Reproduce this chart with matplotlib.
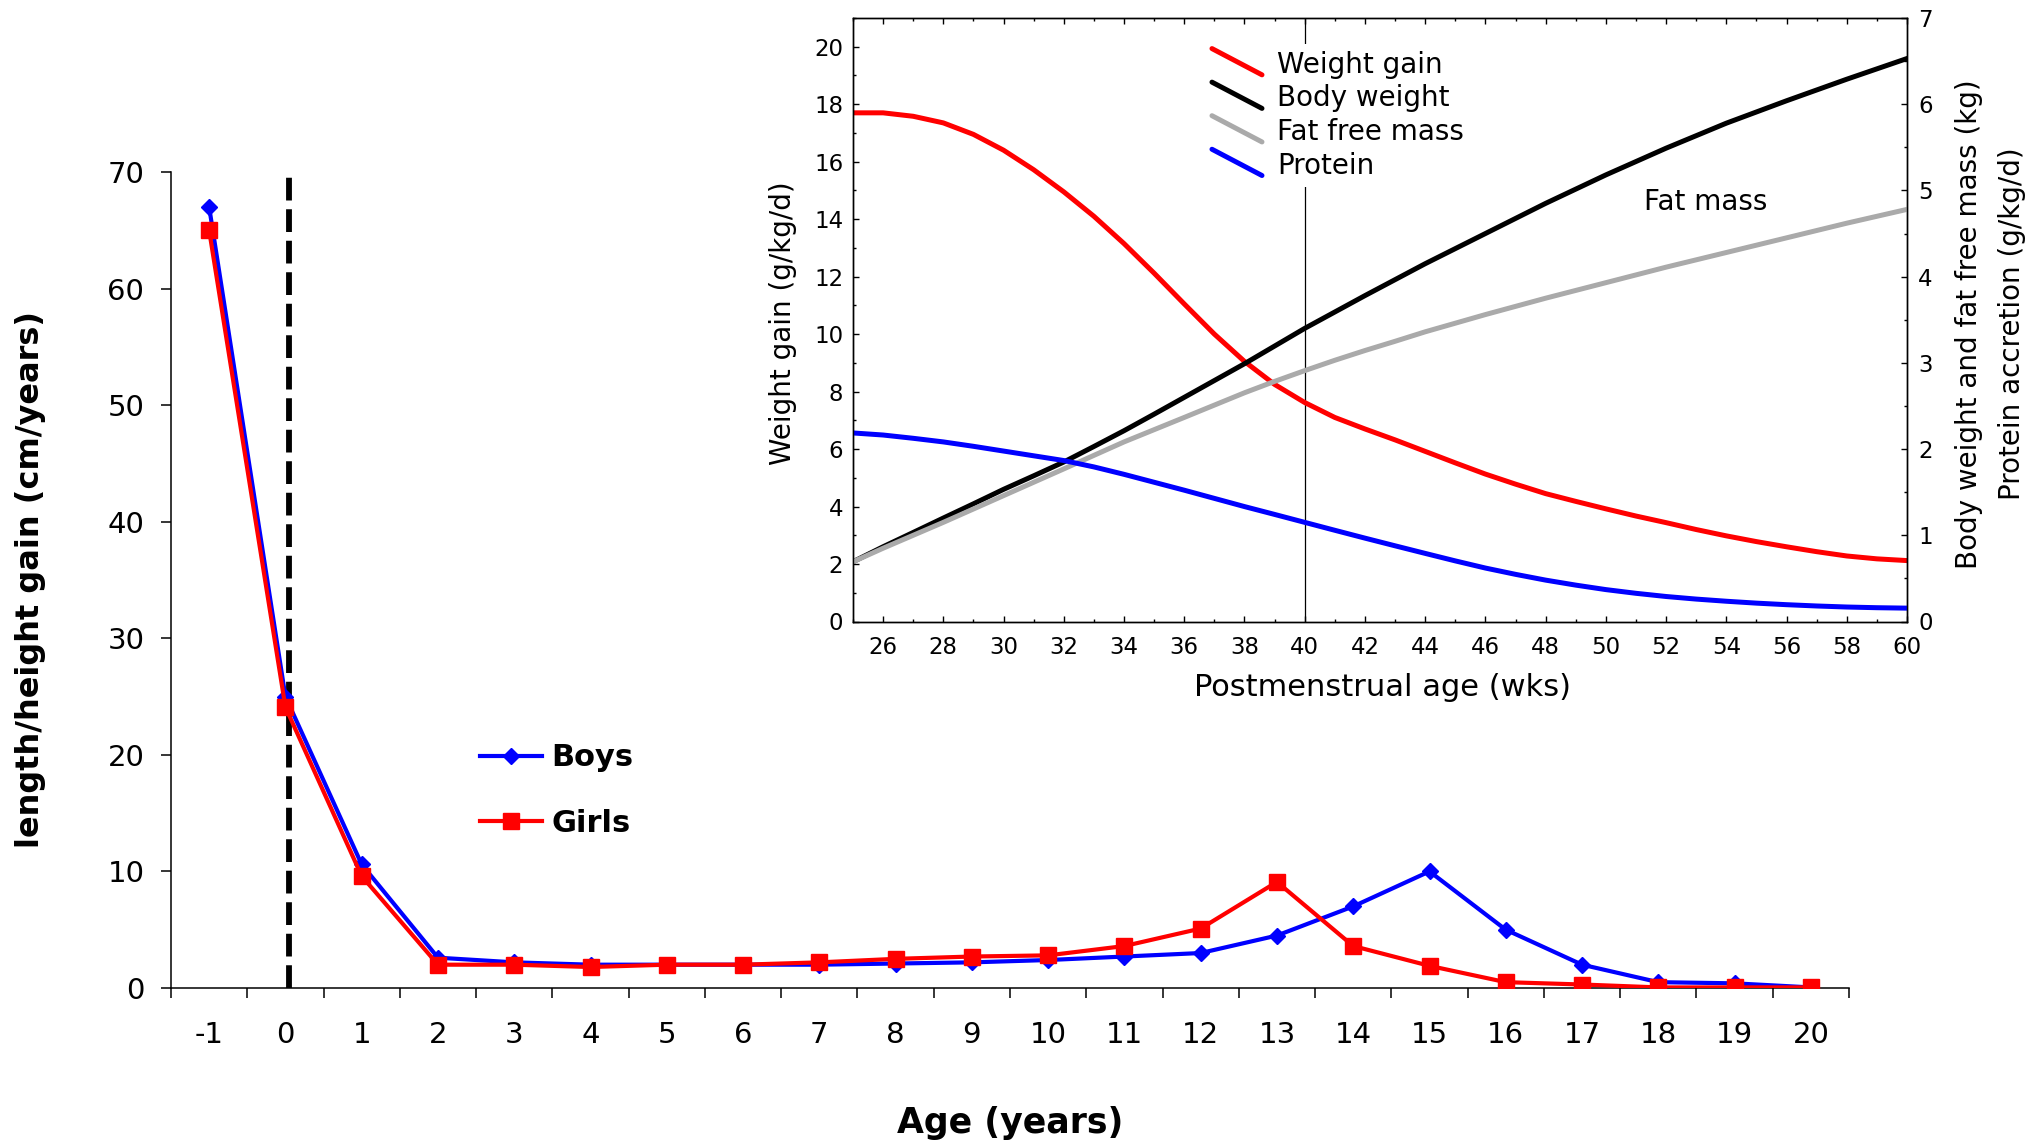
import numpy as np
import matplotlib
matplotlib.use('Agg')
import matplotlib.pyplot as plt
from matplotlib.lines import Line2D
from matplotlib.legend_handler import HandlerBase
from matplotlib.ticker import MultipleLocator, FixedLocator, NullFormatter

plt.rcParams['font.family'] = ['DejaVu Sans']

# main chart: growth velocity by age
ages = [-1, 0, 1, 2, 3, 4, 5, 6, 7, 8, 9, 10, 11, 12, 13, 14, 15, 16, 17, 18, 19, 20]
boys = [67.0, 25.0, 10.6, 2.6, 2.2, 2.0, 2.0, 2.0, 2.0, 2.1, 2.2, 2.4, 2.7, 3.0,
        4.5, 7.0, 10.0, 5.0, 2.0, 0.5, 0.4, 0.05]
girls = [65.0, 24.1, 9.6, 2.0, 2.0, 1.8, 2.0, 2.0, 2.2, 2.5, 2.7, 2.8, 3.6, 5.1,
         9.1, 3.6, 1.9, 0.5, 0.3, 0.05, 0.05, 0.05]

# inset: postmenstrual age (weeks)
pma = list(range(25, 61))
weight_gain = [17.70, 17.70, 17.58, 17.35, 16.95, 16.40, 15.72, 14.95, 14.10, 13.15,
               12.12, 11.05, 10.00, 9.05, 8.25, 7.62, 7.10, 6.70, 6.32, 5.92,
               5.52, 5.13, 4.78, 4.45, 4.18, 3.92, 3.67, 3.44, 3.20, 2.98,
               2.78, 2.60, 2.43, 2.28, 2.18, 2.12]
body_weight = [0.693, 0.867, 1.033, 1.200, 1.365, 1.533, 1.690, 1.850, 2.030, 2.213,
               2.405, 2.600, 2.795, 2.990, 3.195, 3.400, 3.590, 3.780, 3.965, 4.150,
               4.325, 4.500, 4.675, 4.850, 5.015, 5.180, 5.335, 5.490, 5.635, 5.780,
               5.910, 6.040, 6.165, 6.290, 6.410, 6.530]
fat_free_mass = [0.693, 0.850, 1.000, 1.150, 1.305, 1.460, 1.615, 1.770, 1.927, 2.083,
                 2.225, 2.367, 2.510, 2.653, 2.785, 2.910, 3.030, 3.143, 3.250, 3.360,
                 3.460, 3.560, 3.655, 3.750, 3.840, 3.930, 4.020, 4.110, 4.195, 4.280,
                 4.365, 4.450, 4.535, 4.620, 4.700, 4.780]
protein = [2.187, 2.163, 2.125, 2.083, 2.032, 1.977, 1.922, 1.867, 1.793, 1.707,
           1.615, 1.523, 1.428, 1.333, 1.242, 1.150, 1.058, 0.967, 0.878, 0.790,
           0.703, 0.620, 0.547, 0.480, 0.422, 0.370, 0.327, 0.290, 0.260, 0.235,
           0.213, 0.195, 0.180, 0.168, 0.160, 0.155]


class DiagonalHandler(HandlerBase):
    # legend key drawn as a short falling diagonal stroke
    def create_artists(self, legend, orig_handle, xdescent, ydescent,
                       width, height, fontsize, trans):
        x0, y0 = -xdescent, -ydescent
        ln = Line2D([x0, x0 + width], [y0 + height * 1.25, y0 - height * 0.1],
                    color=orig_handle.get_color(), lw=orig_handle.get_linewidth(),
                    solid_capstyle='round', transform=trans)
        return [ln]


W, H = 2041, 1143
fig = plt.figure(figsize=(W / 100, H / 100), dpi=100)

# ---- main axes ----
ax = fig.add_axes([171 / W, 1 - 988 / H, 1678 / W, 816 / H])
ax.plot(ages, boys, color='#0000ff', lw=3, marker='D', ms=8, mec='#0000ff',
        label='Boys', zorder=3)
ax.plot(ages, girls, color='#ff0000', lw=3, marker='s', ms=11, mec='#ff0000',
        label='Girls', zorder=4)
ax.axvline(0.05, ymin=0, ymax=1, color='black', lw=4.2, ls=(0, (3.9, 1.5)), zorder=2)

ax.set_xlim(-1.5, 20.5)
ax.set_ylim(0, 70)
for s in ['top', 'right']:
    ax.spines[s].set_visible(False)
for s in ['left', 'bottom']:
    ax.spines[s].set_linewidth(1.1)

ax.xaxis.set_major_locator(FixedLocator(ages))
ax.set_xticklabels([str(a) for a in ages])
ax.xaxis.set_minor_locator(FixedLocator(np.arange(-1.5, 21, 1.0)))
ax.xaxis.set_minor_formatter(NullFormatter())
ax.tick_params(axis='x', which='major', length=0, pad=23.5, labelsize=21)
ax.tick_params(axis='x', which='minor', length=7.2, width=1.1, direction='out')
ax.yaxis.set_major_locator(MultipleLocator(10))
ax.tick_params(axis='y', which='major', length=7.2, width=1.1, direction='out',
               pad=12, labelsize=21)

leg = ax.legend(loc='upper left', bbox_to_anchor=(0.184, 0.30), frameon=False,
                borderpad=0, borderaxespad=0, handlelength=2.05, handletextpad=0.3,
                labelspacing=1.2, prop={'weight': 'bold', 'size': 22})

fig.text(31 / W, 1 - 580 / H, 'length/height gain (cm/years)', rotation=90,
         ha='center', va='center', fontsize=23, fontweight='bold')
fig.text(1010 / W, 1 - 1133 / H, 'Age (years)', ha='center', va='baseline',
         fontsize=25, fontweight='bold')

# ---- inset ----
ins = fig.add_axes([853 / W, 1 - 621.5 / H, 1054 / W, 603.5 / H])
ins2 = ins.twinx()

l_wg, = ins.plot(pma, weight_gain, color='#ff0000', lw=3.6, label='Weight gain')
ins.axvline(40, color='black', lw=0.9, zorder=1)
l_bw, = ins2.plot(pma, body_weight, color='black', lw=3.6, label='Body weight')
l_ffm, = ins2.plot(pma, fat_free_mass, color='#aaaaaa', lw=3.6, label='Fat free mass')
l_pr, = ins2.plot(pma, protein, color='#0000ff', lw=3.6, label='Protein')

ins.set_xlim(25, 60)
ins.set_ylim(0, 21)
ins2.set_ylim(0, 7)

ins.xaxis.set_major_locator(MultipleLocator(2))
ins.xaxis.set_minor_locator(MultipleLocator(1))
ins.set_xticks(range(26, 61, 2))
ins.yaxis.set_major_locator(MultipleLocator(2))
ins.yaxis.set_minor_locator(MultipleLocator(1))
ins.set_yticks(range(0, 21, 2))
ins2.yaxis.set_major_locator(MultipleLocator(1))
ins2.yaxis.set_minor_locator(MultipleLocator(0.5))

for a in (ins, ins2):
    for s in a.spines.values():
        s.set_linewidth(1.0)
ins.tick_params(which='both', direction='in', top=True, right=False, width=1.0)
ins.tick_params(which='major', length=4.0)
ins.tick_params(which='minor', length=2.0)
ins.tick_params(axis='x', which='major', pad=10.5, labelsize=16.5)
ins.tick_params(axis='y', which='major', pad=7, labelsize=16.5)
ins2.tick_params(which='both', direction='in', width=1.0)
ins2.tick_params(which='major', length=4.0, pad=8, labelsize=16.5)
ins2.tick_params(which='minor', length=2.0)

ins2.legend(handles=[l_wg, l_bw, l_ffm, l_pr], loc='upper left',
            bbox_to_anchor=(0.334, 0.957), borderaxespad=0, borderpad=0.25,
            handlelength=1.8, handletextpad=0.55, labelspacing=0.2,
            fontsize=20, fancybox=False, framealpha=1, facecolor='white',
            edgecolor='none', handler_map={Line2D: DiagonalHandler()})

ins.text(53.3, 14.6, 'Fat mass', ha='center', va='center', fontsize=20)

fig.text(783 / W, 1 - 323 / H, 'Weight gain (g/kg/d)', rotation=90,
         ha='center', va='center', fontsize=20)
fig.text(1383 / W, 1 - 696 / H, 'Postmenstrual age (wks)', ha='center',
         va='baseline', fontsize=22)
fig.text(1969 / W, 1 - 324 / H, 'Body weight and fat free mass (kg)', rotation=90,
         ha='center', va='center', fontsize=20)
fig.text(2012 / W, 1 - 324 / H, 'Protein accretion (g/kg/d)', rotation=90,
         ha='center', va='center', fontsize=20)

fig.savefig('out.png', dpi=100)
